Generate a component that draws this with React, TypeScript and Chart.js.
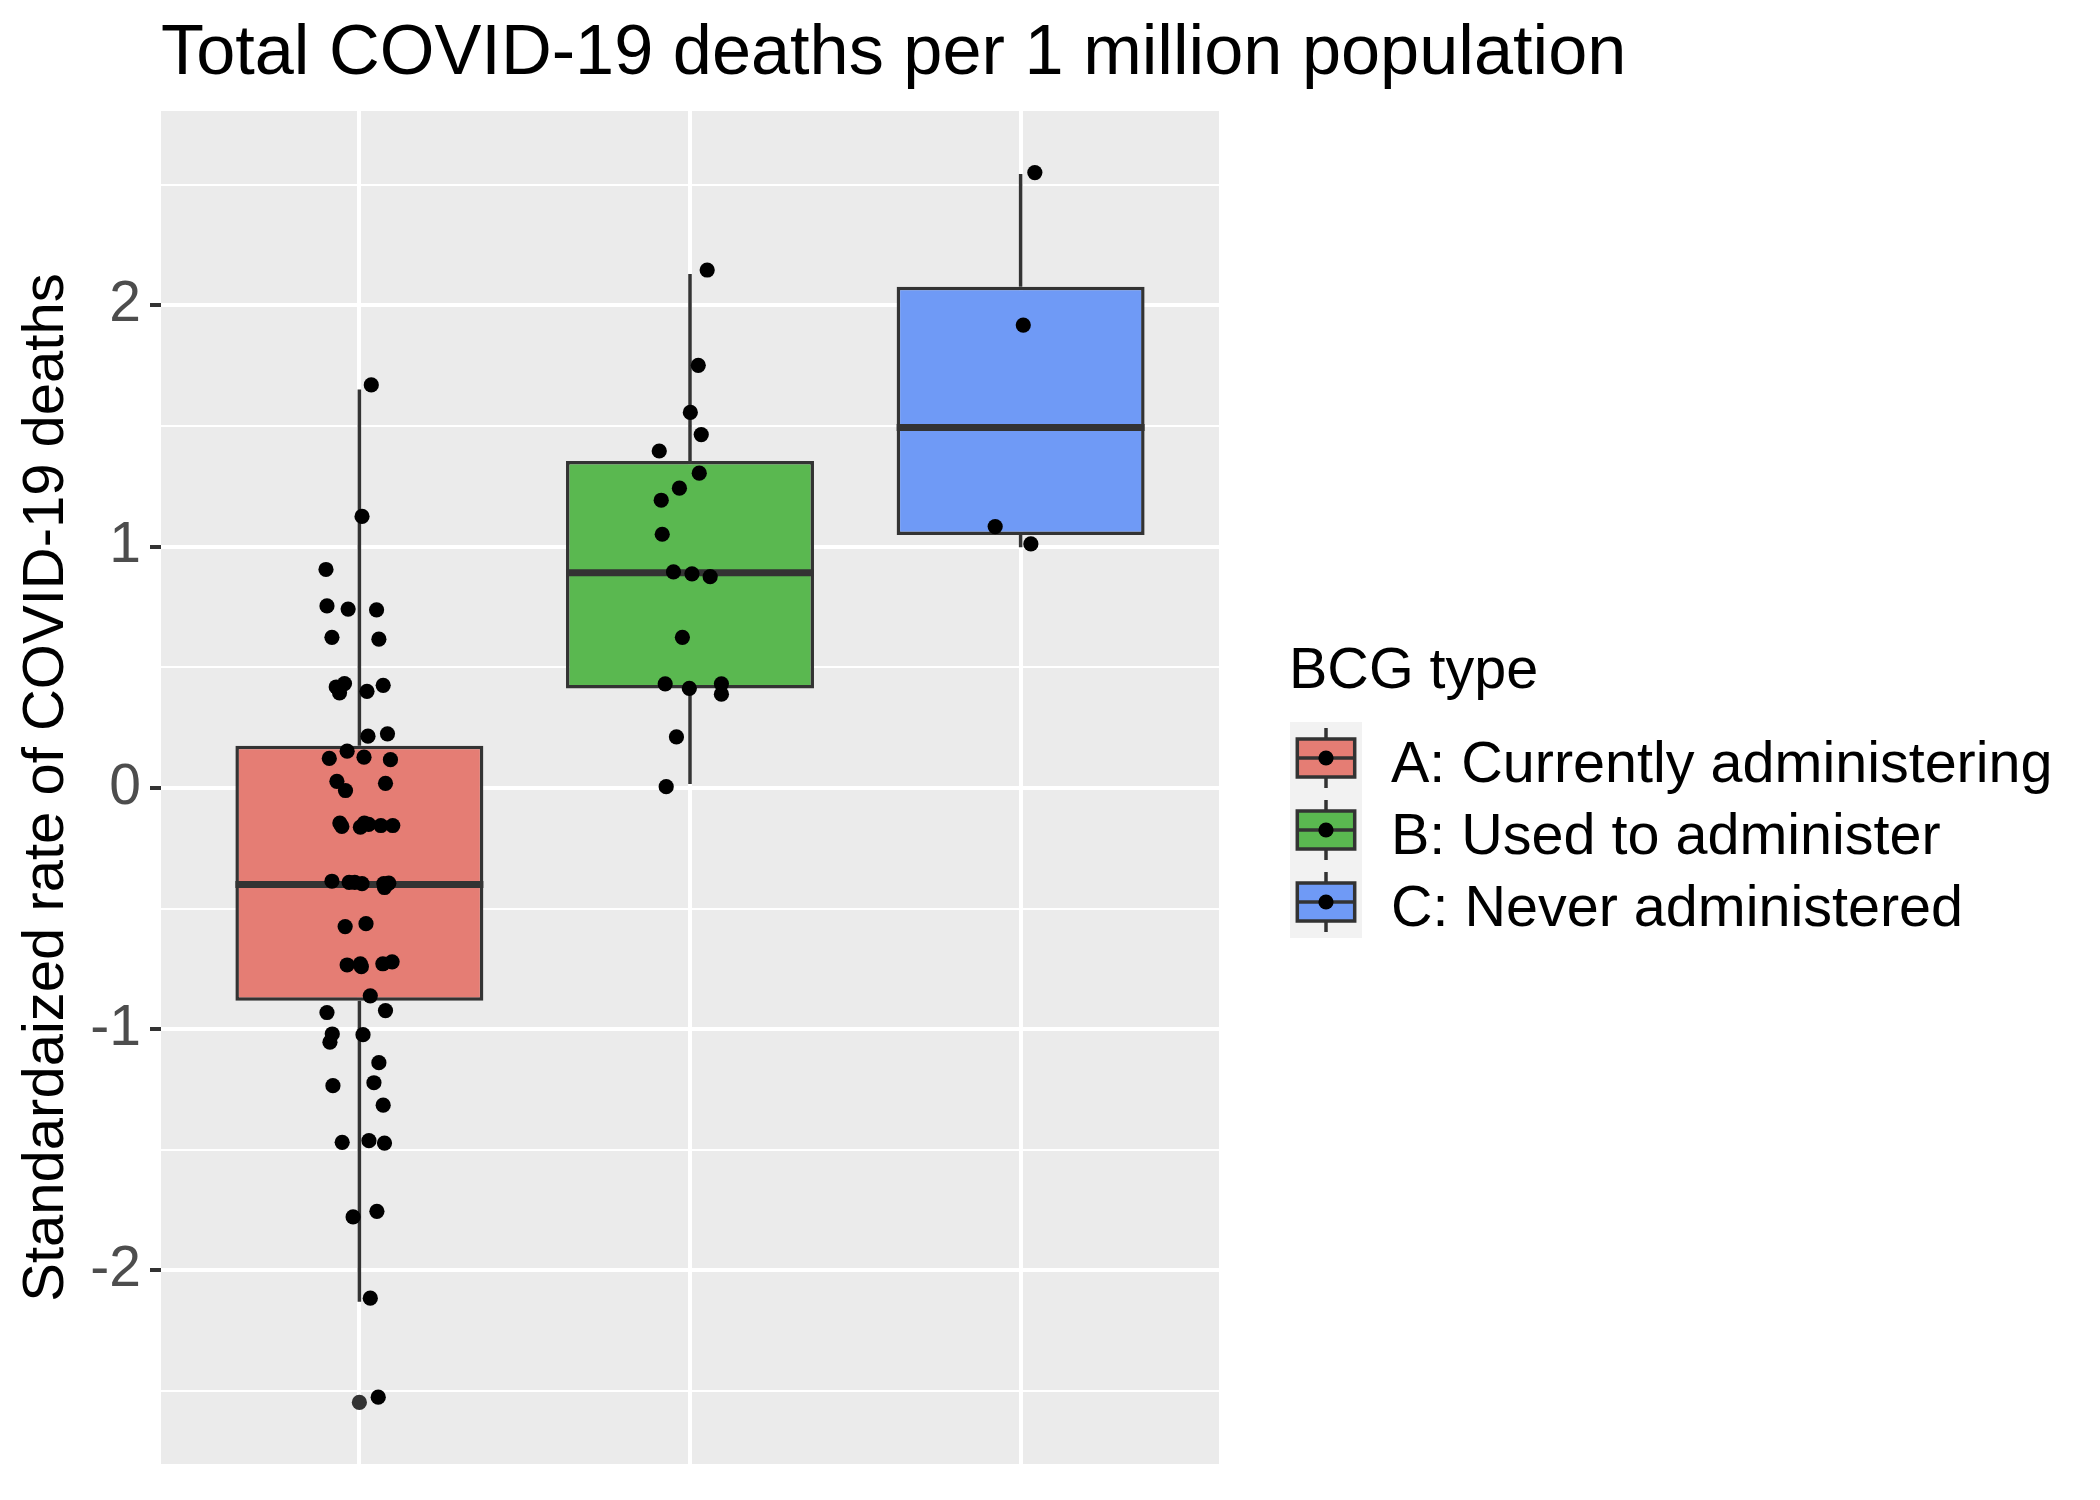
import React, { useEffect, useRef } from "react";
import { Chart, registerables } from "chart.js";

Chart.register(...registerables);

const FONT = "'Liberation Sans', Arial, Helvetica, sans-serif";

// ---------- data ----------
const chartTitle = "Total COVID-19 deaths per 1 million population";
const yAxisTitle = "Standardaized rate of COVID-19 deaths";
const legendTitle = "BCG type";
const categories = ["A: Currently administering", "B: Used to administer", "C: Never administered"];
const categoryPositions = [1, 2, 3];
const boxFills = ["#E57D74", "#5AB850", "#6F9AF6"];

// box statistics per category
const whiskerLow = [-2.13, 0.016, 0.997];
const q1 = [-0.882, 0.412, 1.048];
const median = [-0.4, 0.891, 1.493];
const q3 = [0.175, 1.355, 2.077];
const whiskerHigh = [1.651, 2.13, 2.544];

// outliers drawn by the boxplot layer
const outlierCategory = [0];
const outlierValues = [-2.547];

// jittered points: value and horizontal jitter (category units)
const groupAValues = [
  1.67, 1.125, 0.905, 0.754, 0.741, 0.738, 0.624, 0.616, 0.418, 0.432, 0.394, 0.4, 0.425, 0.214, 0.224,
  0.152, 0.122, 0.127, 0.117, 0.027, -0.011, 0.019, -0.146, -0.16, -0.163, -0.146, -0.151, -0.156, -0.156,
  -0.387, -0.392, -0.392, -0.397, -0.397, -0.395, -0.413, -0.575, -0.563, -0.734, -0.729, -0.741, -0.729,
  -0.721, -0.862, -0.931, -0.923, -1.02, -1.054, -1.023, -1.139, -1.234, -1.222, -1.315, -1.469, -1.462,
  -1.472, -1.778, -1.755, -2.115, -2.525,
];
const groupAJitter = [
  0.036, 0.008, -0.101, -0.098, -0.034, 0.052, -0.083, 0.059, -0.07, -0.045, -0.06, 0.023, 0.072, 0.026, 0.085,
  -0.037, -0.091, 0.014, 0.094, -0.068, -0.042, 0.079, -0.059, -0.053, 0.003, 0.015, 0.028, 0.065, 0.101,
  -0.083, -0.031, -0.014, 0.008, 0.074, 0.089, 0.076, -0.043, 0.02, -0.037, 0.003, 0.006, 0.071,
  0.099, 0.033, -0.098, 0.079, -0.082, -0.089, 0.011, 0.059, -0.08, 0.044, 0.072, -0.052, 0.029,
  0.076, -0.019, 0.053, 0.033, 0.057,
];
const groupBValues = [
  2.146, 1.751, 1.556, 1.464, 1.396, 1.304, 1.242, 1.192, 1.051, 0.895, 0.887, 0.875, 0.624, 0.431, 0.412,
  0.431, 0.388, 0.211, 0.005,
];
const groupBJitter = [
  0.052, 0.025, 0.001, 0.034, -0.093, 0.028, -0.032, -0.087, -0.084, -0.05, 0.006, 0.061, -0.023, -0.075, -0.002,
  0.095, 0.095, -0.041, -0.072,
];
const groupCValues = [2.55, 1.918, 1.083, 1.011];
const groupCJitter = [0.043, 0.008, -0.077, 0.031];

// axis
const yMin = -2.802;
const yMax = 2.805;
const xMin = 0.4;
const xMax = 3.6;
const yGridValues = [-2.5, -2, -1.5, -1, -0.5, 0, 0.5, 1, 1.5, 2, 2.5];
const yTickLabels = [-2, -1, 0, 1, 2];

// ---------- styles ----------
const BOX_HALF_WIDTH = 0.375;
const LINE = "#333333";
const PANEL_BG = "#EBEBEB";

const isMajor = (v: number) => yTickLabels.includes(v);

const panelPlugin = {
  id: "panelBg",
  beforeDraw(chart: any) {
    const { ctx, chartArea } = chart;
    ctx.save();
    ctx.fillStyle = "#FFFFFF";
    ctx.fillRect(0, 0, chart.width, chart.height);
    ctx.fillStyle = PANEL_BG;
    ctx.fillRect(chartArea.left, chartArea.top, chartArea.right - chartArea.left, chartArea.bottom - chartArea.top);
    ctx.restore();
  },
};

const titlePlugin = {
  id: "ggTitle",
  afterDraw(chart: any) {
    const { ctx, chartArea } = chart;
    ctx.save();
    ctx.fillStyle = "#000000";
    ctx.textAlign = "left";
    ctx.textBaseline = "alphabetic";
    ctx.font = `70.3px ${FONT}`;
    ctx.fillText(chartTitle, chartArea.left, 74);
    ctx.restore();
  },
};

const BOX_DATASET_INDEX = 2;

const boxPartsPlugin = {
  id: "boxParts",
  afterDatasetDraw(chart: any, args: any) {
    if (args.index !== BOX_DATASET_INDEX) return;
    const { ctx } = chart;
    const xs = chart.scales.x;
    const ys = chart.scales.y;
    ctx.save();
    ctx.strokeStyle = LINE;
    ctx.lineCap = "butt";
    categoryPositions.forEach((pos, i) => {
      const px = xs.getPixelForValue(pos);
      const left = xs.getPixelForValue(pos - BOX_HALF_WIDTH);
      const right = xs.getPixelForValue(pos + BOX_HALF_WIDTH);
      ctx.lineWidth = 3.5;
      ctx.beginPath();
      ctx.moveTo(px, ys.getPixelForValue(q3[i]));
      ctx.lineTo(px, ys.getPixelForValue(whiskerHigh[i]));
      ctx.moveTo(px, ys.getPixelForValue(q1[i]));
      ctx.lineTo(px, ys.getPixelForValue(whiskerLow[i]));
      ctx.stroke();
      ctx.lineWidth = 7;
      ctx.beginPath();
      const my = ys.getPixelForValue(median[i]);
      ctx.moveTo(left, my);
      ctx.lineTo(right, my);
      ctx.stroke();
    });
    ctx.restore();
  },
};

const legendPlugin = {
  id: "ggLegend",
  afterDraw(chart: any) {
    const { ctx } = chart;
    ctx.save();
    ctx.textAlign = "left";
    ctx.textBaseline = "alphabetic";
    ctx.fillStyle = "#000000";
    ctx.font = `57.5px ${FONT}`;
    ctx.fillText(legendTitle, 1289, 688);
    const keyLeft = 1290;
    const keyTop = 722;
    const keySize = 72;
    ctx.fillStyle = "#F2F2F2";
    ctx.fillRect(keyLeft, keyTop, keySize, keySize * categories.length);
    categories.forEach((label, i) => {
      const cx = keyLeft + keySize / 2;
      const cy = keyTop + keySize / 2 + keySize * i;
      ctx.strokeStyle = LINE;
      ctx.lineWidth = 3.5;
      ctx.beginPath();
      ctx.moveTo(cx, cy - 30);
      ctx.lineTo(cx, cy + 30);
      ctx.stroke();
      ctx.fillStyle = boxFills[i];
      ctx.fillRect(cx - 28.7, cy - 19, 57.4, 38);
      ctx.strokeRect(cx - 28.7, cy - 19, 57.4, 38);
      ctx.beginPath();
      ctx.moveTo(cx - 28.7, cy);
      ctx.lineTo(cx + 28.7, cy);
      ctx.stroke();
      ctx.fillStyle = "#000000";
      ctx.beginPath();
      ctx.arc(cx, cy, 7.6, 0, Math.PI * 2);
      ctx.fill();
      ctx.font = `57.5px ${FONT}`;
      ctx.fillText(label, 1391, cy + 24);
    });
    ctx.restore();
  },
};

export default function App() {
  const canvasRef = useRef<HTMLCanvasElement | null>(null);

  useEffect(() => {
    const canvas = canvasRef.current;
    if (!canvas) return;
    Chart.defaults.font.family = FONT;

    const jitterPoints = [
      ...groupAValues.map((v, i) => ({ x: categoryPositions[0] + groupAJitter[i], y: v })),
      ...groupBValues.map((v, i) => ({ x: categoryPositions[1] + groupBJitter[i], y: v })),
      ...groupCValues.map((v, i) => ({ x: categoryPositions[2] + groupCJitter[i], y: v })),
    ];
    const outlierPoints = outlierValues.map((v, i) => ({ x: categoryPositions[outlierCategory[i]], y: v }));
    const boxes = categoryPositions.map((p, i) => ({ x: p, y: [q1[i], q3[i]] }));

    const chart = new Chart(canvas, {
      type: "bar",
      data: {
        datasets: [
          {
            type: "scatter",
            label: "points",
            data: jitterPoints,
            backgroundColor: "#000000",
            borderWidth: 0,
            pointRadius: 7.6,
            pointHoverRadius: 7.6,
            order: 0,
          } as any,
          {
            type: "scatter",
            label: "outliers",
            data: outlierPoints,
            backgroundColor: LINE,
            borderWidth: 0,
            pointRadius: 7.6,
            pointHoverRadius: 7.6,
            order: 1,
          } as any,
          {
            type: "bar",
            label: "boxes",
            data: boxes as any,
            backgroundColor: boxFills,
            borderColor: LINE,
            borderWidth: 3.5,
            borderSkipped: false,
            categoryPercentage: 1,
            barPercentage: BOX_HALF_WIDTH * 2,
            order: 2,
          } as any,
        ],
      },
      options: {
        responsive: false,
        devicePixelRatio: 1,
        animation: false,
        events: [],
        layout: { padding: { left: 0, right: 881, top: 111, bottom: 36 } },
        plugins: {
          legend: { display: false },
          tooltip: { enabled: false },
          title: { display: false },
        },
        scales: {
          x: {
            type: "linear",
            min: xMin,
            max: xMax,
            offset: false,
            afterBuildTicks: (scale: any) => {
              scale.ticks = categoryPositions.map((v) => ({ value: v }));
            },
            afterFit: (scale: any) => {
              scale.height = 0;
              scale.paddingLeft = 0;
              scale.paddingRight = 0;
            },
            ticks: { display: false },
            grid: { color: "#FFFFFF", lineWidth: 4, drawTicks: false, offset: false },
            border: { display: false },
          },
          y: {
            type: "linear",
            min: yMin,
            max: yMax,
            afterBuildTicks: (scale: any) => {
              scale.ticks = yGridValues.map((v) => ({ value: v }));
            },
            afterFit: (scale: any) => {
              scale.width = 161;
              scale.paddingTop = 0;
              scale.paddingBottom = 0;
            },
            ticks: {
              color: "#4D4D4D",
              font: { size: 57, family: FONT },
              padding: 9,
              callback: (v: any) => (isMajor(Number(v)) ? String(v) : ""),
            },
            grid: {
              color: "#FFFFFF",
              lineWidth: (c: any) => (c.tick && isMajor(c.tick.value) ? 4 : 2),
              tickColor: (c: any) => (c.tick && isMajor(c.tick.value) ? LINE : "rgba(0,0,0,0)"),
              tickWidth: 4,
              tickLength: 11,
              drawTicks: true,
            },
            border: { display: false },
            title: {
              display: true,
              text: yAxisTitle,
              color: "#000000",
              font: { size: 58, family: FONT },
              padding: { top: 12, bottom: 0 },
            },
          },
        },
      },
      plugins: [panelPlugin, boxPartsPlugin, titlePlugin, legendPlugin],
    });

    return () => {
      chart.destroy();
    };
  }, []);

  return (
    <div style={{ position: "absolute", left: 0, top: 0, width: 2100, height: 1500, background: "#FFFFFF" }}>
      <canvas ref={canvasRef} width={2100} height={1500} style={{ display: "block", width: 2100, height: 1500 }} />
    </div>
  );
}
